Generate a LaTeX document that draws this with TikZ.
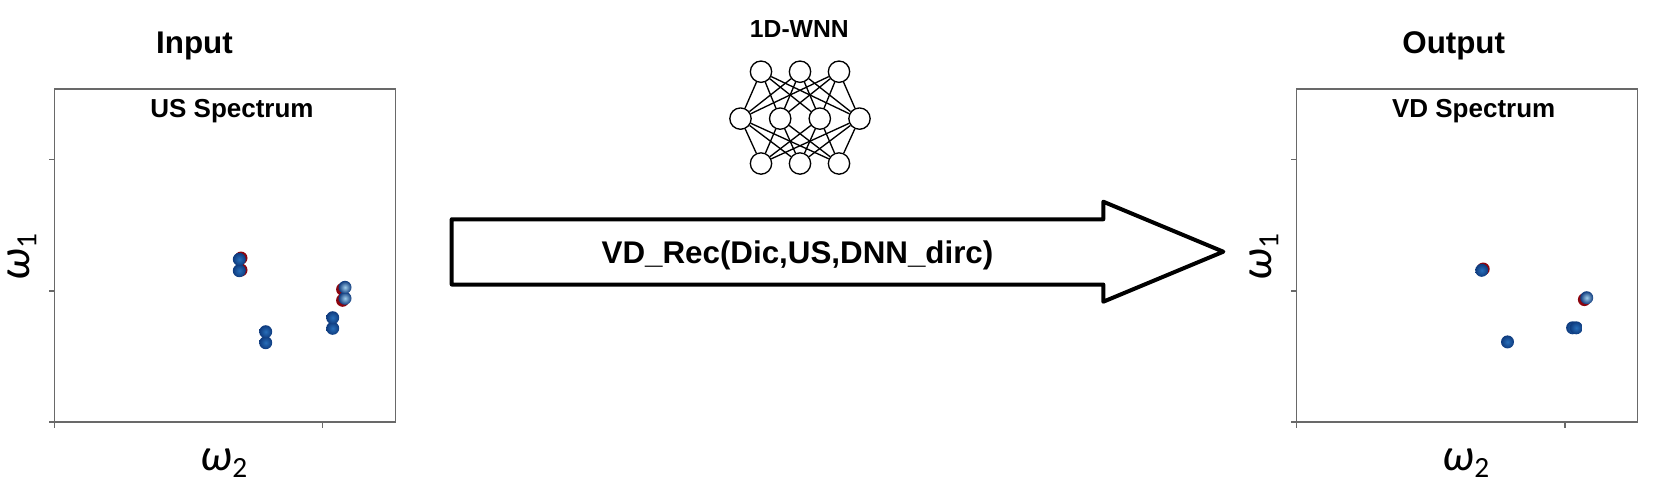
\documentclass[tikz,border=0pt]{standalone}
\usepackage{fontspec}
\setmainfont{Liberation Sans}
\newfontfamily\greekfont{Carlito}

\definecolor{framegray}{RGB}{105,105,105}
\definecolor{dotblue}{RGB}{40,110,185}
\definecolor{dotdark}{RGB}{14,58,125}
\definecolor{dotlight}{RGB}{160,205,235}
\definecolor{dotred}{RGB}{140,5,15}

\tikzset{every picture/.style={line width=0.75pt}}
\tikzset{
	plotframe/.style={draw=framegray, line width=1pt},
	plottick/.style={draw=framegray, line width=0.8pt},
	neuron/.style={draw, circle, inner sep=0pt, minimum size=16pt, line width=1pt},
	nnlink/.style={line width=1pt},
	bluedot/.style={inner color=dotblue, outer color=dotdark},
	lightdot/.style={inner color=dotlight, outer color=dotdark},
	reddot/.style={fill=dotred},
	bigtitle/.style={anchor=base, inner sep=0.75pt, font=\bfseries\fontsize{23.5}{28}\selectfont},
	smalltitle/.style={anchor=base, inner sep=0.75pt, font=\bfseries\fontsize{19.5}{23}\selectfont},
	axislabel/.style={anchor=base, inner sep=0pt, font=\greekfont\fontsize{34}{38}\selectfont}
}

\newcommand{\omegasub}[1]{\textit{ω}\raisebox{-5.5pt}{\fontsize{22}{24}\selectfont #1}}

\begin{document}
\begin{tikzpicture}[x=0.75pt,y=0.75pt,yscale=-1,xscale=1]
	\useasboundingbox (0,0) rectangle (1653,494);

		\draw [plotframe]  (54.3,89) -- (395.7,89) -- (395.7,422) -- (54.3,422) -- cycle ;
		\draw [plottick]  (49,159.7) -- (54.3,159.7) (49,291) -- (54.3,291) (49,422) -- (54.3,422) ;
		\draw [plottick]  (54.3,422) -- (54.3,427.5) (322.7,422) -- (322.7,427.5) ;

		\draw [plotframe]  (1296.3,89) -- (1637.7,89) -- (1637.7,422) -- (1296.3,422) -- cycle ;
		\draw [plottick]  (1291,159.7) -- (1296.3,159.7) (1291,291) -- (1296.3,291) (1291,422) -- (1296.3,422) ;
		\draw [plottick]  (1296.3,422) -- (1296.3,427.5) (1565,422) -- (1565,427.5) ;

		\fill [reddot]  (241,258) circle (6.5) (241,270) circle (6.5) ;
		\fill [reddot]  (342.6,289.3) circle (6.5) (342.6,300.3) circle (6.5) ;
		\shade [bluedot]  (239.3,270.7) circle (6.5) ;
		\shade [bluedot]  (239.3,259.3) circle (6.5) ;
		\shade [bluedot]  (265.7,342.7) circle (6.5) ;
		\shade [bluedot]  (265.7,331.7) circle (6.5) ;
		\shade [bluedot]  (332.7,328.3) circle (6.5) ;
		\shade [bluedot]  (332.7,317.7) circle (6.5) ;
		\shade [lightdot]  (345,298.3) circle (6.5) ;
		\shade [lightdot]  (345,287.3) circle (6.5) ;

		\fill [reddot]  (1483.2,269) circle (6.5) (1584.4,299.6) circle (6.5) ;
		\shade [bluedot]  (1481.7,270.3) circle (6.5) ;
		\shade [bluedot]  (1507.5,341.9) circle (6.5) ;
		\shade [bluedot]  (1572.6,327.8) circle (6.5) ;
		\shade [bluedot]  (1576.2,327.8) circle (6.5) ;
		\shade [lightdot]  (1586.7,297.7) circle (6.5) ;

		\draw [line width=3pt, line join=round]  (451.7,219.3) -- (1103.3,219.3) -- (1103.3,201.7) -- (1223.3,251.7) -- (1103.3,301.7) -- (1103.3,284.5) -- (451.7,284.5) -- cycle ;

		\draw (761,71.7) node (top1) [neuron] {};
		\draw (800,71.7) node (top2) [neuron] {};
		\draw (839,71.7) node (top3) [neuron] {};
		\draw (740.5,118.6) node (mid1) [neuron] {};
		\draw (780.2,118.6) node (mid2) [neuron] {};
		\draw (819.8,118.6) node (mid3) [neuron] {};
		\draw (859.5,118.6) node (mid4) [neuron] {};
		\draw (761,163.5) node (bot1) [neuron] {};
		\draw (800,163.5) node (bot2) [neuron] {};
		\draw (839,163.5) node (bot3) [neuron] {};

		\draw [nnlink]  (top1) -- (mid1) (top1) -- (mid2) (top1) -- (mid3) (top1) -- (mid4) ;
		\draw [nnlink]  (top2) -- (mid1) (top2) -- (mid2) (top2) -- (mid3) (top2) -- (mid4) ;
		\draw [nnlink]  (top3) -- (mid1) (top3) -- (mid2) (top3) -- (mid3) (top3) -- (mid4) ;
		\draw [nnlink]  (bot1) -- (mid1) (bot1) -- (mid2) (bot1) -- (mid3) (bot1) -- (mid4) ;
		\draw [nnlink]  (bot2) -- (mid1) (bot2) -- (mid2) (bot2) -- (mid3) (bot2) -- (mid4) ;
		\draw [nnlink]  (bot3) -- (mid1) (bot3) -- (mid2) (bot3) -- (mid3) (bot3) -- (mid4) ;

		\draw (194.5,53.3) node (inputtitle) [bigtitle] {Input};
		\draw (1453.7,53.3) node (outputtitle) [bigtitle] {Output};
		\draw (232,117.3) node (usspectrum) [smalltitle] {US Spectrum};
		\draw (1473.7,117.3) node (vdspectrum) [smalltitle] {VD Spectrum};
		\draw (799.3,37.7) node (wnntitle) [smalltitle, font=\bfseries\fontsize{18.5}{22}\selectfont] {1D-WNN};
		\draw (797.5,263.3) node (vdrec) [bigtitle] {VD\_Rec(Dic,US,DNN\_dirc)};
		\draw (29,257) node (omegaleft) [axislabel, rotate=90] {\omegasub{1}};
		\draw (1271,257) node (omegaright) [axislabel, rotate=90] {\omegasub{1}};
		\draw (224,470) node (omegabotleft) [axislabel] {\omegasub{2}};
		\draw (1466,470) node (omegabotright) [axislabel] {\omegasub{2}};

\end{tikzpicture}
\end{document}
